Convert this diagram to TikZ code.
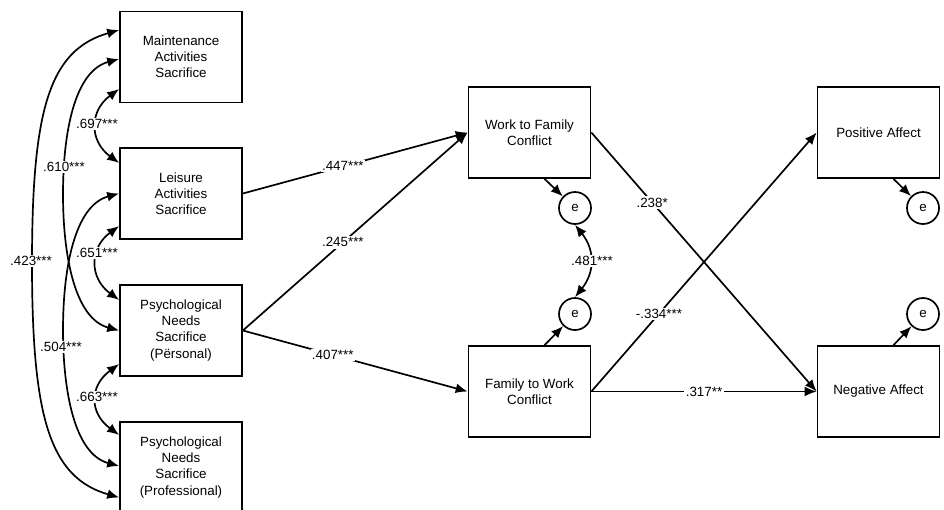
\documentclass[tikz,border=0pt]{standalone}
\usepackage{fontspec}
\setmainfont{Liberation Sans}
\usetikzlibrary{arrows.meta,calc}

\tikzset{
    box/.style={draw, line width=1.2pt, minimum width=3.05cm, minimum height=2.275cm,
        align=center, inner sep=2pt, font=\fontsize{9.5}{11.4}\selectfont},
    err/.style={draw, circle, line width=1.2pt, minimum size=0.8cm, inner sep=0pt,
        font=\fontsize{9.5}{11.4}\selectfont},
    lbl/.style={fill=white, inner sep=1pt, font=\fontsize{9.5}{11.4}\selectfont},
    arr/.style={-{Latex[length=8.5pt,width=7pt]}, line width=1.2pt},
    cov/.style={{Latex[length=8.5pt,width=7pt]}-{Latex[length=8.5pt,width=7pt]}, line width=1.2pt}
}

\begin{document}
\begin{tikzpicture}[x=0.025cm,y=-0.025cm]
    \useasboundingbox (0,0) rectangle (944,509);
    %draw boxes
    \node[box] (mas) at (181,57) {Maintenance\\Activities\\Sacrifice};
    \node[box] (las) at (181,193.5) {Leisure\\Activities\\Sacrifice};
    \node[box] (pnsp) at (181,330.5) {Psychological\\Needs\\Sacrifice\\(Përsonal)};
    \node[box] (pnsw) at (181,467.5) {Psychological\\Needs\\Sacrifice\\(Professional)};
    \node[box] (wfc) at (529.5,132.5) {Work to Family\\Conflict};
    \node[box] (fwc) at (529.5,391.5) {Family to Work\\Conflict};
    \node[box] (pa) at (878.5,132.5) {Positive Affect};
    \node[box] (na) at (878.5,391.5) {Negative Affect};
    %draw error terms
    \node[err] (e1) at (575,208) {e};
    \node[err] (e2) at (575,314) {e};
    \node[err] (e3) at (923,208) {e};
    \node[err] (e4) at (923,314) {e};
    %draw covariances
    \draw[cov] ($(mas.west)+(0,-27)$) .. controls +(-70,20) and +(0,-153) .. (32,263)
        .. controls +(0,153) and +(-70,-20) .. ($(pnsw.west)+(0,30)$);
    \draw[cov] ($(mas.west)+(0,2)$) .. controls +(-45,12) and +(0,-60) .. (63,194)
        .. controls +(0,60) and +(-45,-12) .. (pnsp.west);
    \draw[cov] (las.west) .. controls +(-45,12) and +(0,-60) .. (63,330)
        .. controls +(0,60) and +(-45,-12) .. ($(pnsw.west)+(0,-1.5)$);
    \draw[cov] ($(mas.west)+(0,32)$) .. controls +(-30,22) and +(-30,-22) .. ($(las.west)+(0,-30.5)$);
    \draw[cov] ($(las.west)+(0,32.5)$) .. controls +(-30,22) and +(-30,-22) .. ($(pnsp.west)+(0,-30.5)$);
    \draw[cov] ($(pnsp.west)+(0,33.5)$) .. controls +(-30,22) and +(-30,-22) .. ($(pnsw.west)+(0,-32.5)$);
    \draw[cov] (e1.south) .. controls +(20,25) and +(20,-25) .. (e2.north);
    %draw covariance values
    \node[lbl] (l423) at (31,261) {.423***};
    \node[lbl] (l610) at (64,167) {.610***};
    \node[lbl] (l504) at (61,347) {.504***};
    \node[lbl] (l697) at (97,124) {.697***};
    \node[lbl] (l651) at (97,253) {.651***};
    \node[lbl] (l663) at (97,397) {.663***};
    \node[lbl] (l481) at (592,261) {.481***};
    %draw paths
    \draw[arr] (las.east) -- (wfc.west) node[lbl,pos=0.445] (l447) {.447***};
    \draw[arr] (pnsp.east) -- (wfc.west) node[lbl,pos=0.445] (l245) {.245***};
    \draw[arr] (pnsp.east) -- (fwc.west) node[lbl,pos=0.4] (l407) {.407***};
    \draw[arr] (wfc.east) -- (na.west) node[lbl,pos=0.27] (l238) {.238*};
    \draw[arr] (fwc.east) -- (pa.west) node[lbl,pos=0.3] (l334) {-.334***};
    \draw[arr] (fwc.east) -- (na.west) node[lbl,pos=0.5] (l317) {.317**};
    \draw[arr] ($(wfc.south)+(15,0)$) -- (e1);
    \draw[arr] ($(fwc.north)+(15,0)$) -- (e2);
    \draw[arr] ($(pa.south)+(15,0)$) -- (e3);
    \draw[arr] ($(na.north)+(15,0)$) -- (e4);
\end{tikzpicture}
\end{document}
